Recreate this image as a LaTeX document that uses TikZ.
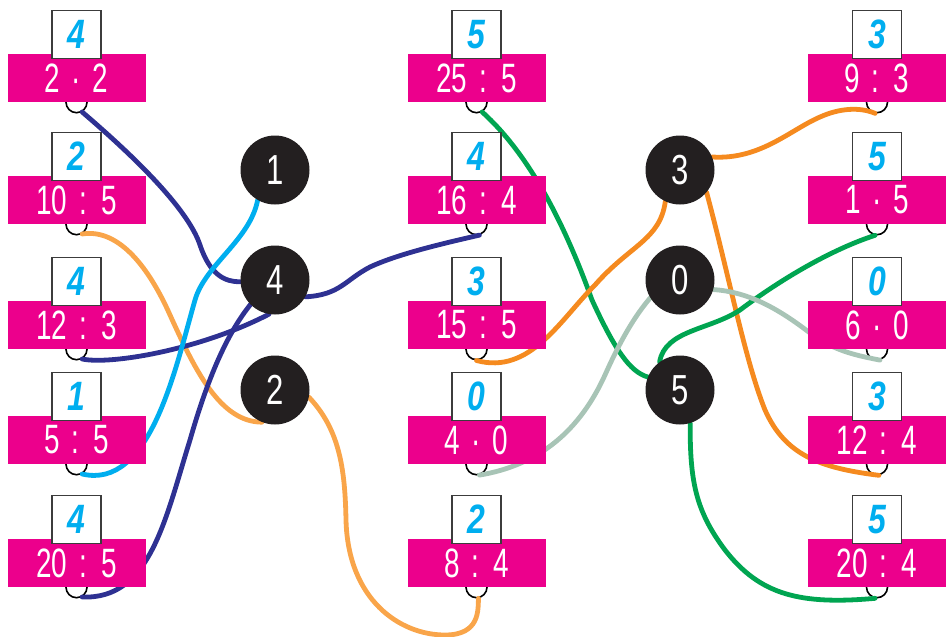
\documentclass[tikz,border=0pt]{standalone}
\usepackage{fontspec}
\newfontfamily\quotfont{Liberation Sans}[FakeStretch=0.68,WordSpace=1.5]
\newfontfamily\resfont{Liberation Sans}[FakeStretch=0.78]
\newfontfamily\ballfont{Liberation Sans}[FakeStretch=0.74]
\usetikzlibrary{positioning}

\definecolor{quotpink}{HTML}{EC008C}
\definecolor{rescyan}{HTML}{00AEEF}
\definecolor{ballblack}{HTML}{231F20}
\definecolor{framegray}{HTML}{3C3C3C}
\definecolor{navy}{HTML}{2E3192}
\definecolor{peach}{HTML}{F9A54A}
\definecolor{tangerine}{HTML}{F58A1F}
\definecolor{skyline}{HTML}{00AEEF}
\definecolor{leaf}{HTML}{00A551}
\definecolor{sage}{HTML}{A8C4B6}

\pgfdeclarelayer{bg}
\pgfsetlayers{bg,main}

\tikzset{
  quot/.style={fill=quotpink, text=white, minimum width=138pt, minimum height=48pt,
    inner sep=0pt, font=\quotfont\fontsize{41}{44}\selectfont},
  res/.style={draw=framegray, line width=1.3pt, fill=white, text=rescyan,
    minimum width=49pt, minimum height=48pt, inner sep=0pt,
    font=\resfont\bfseries\itshape\fontsize{41}{44}\selectfont},
  hook/.style={circle, draw=black, line width=1.6pt, minimum size=21pt, inner sep=0pt},
  ball/.style={circle, fill=ballblack, text=white, minimum size=69pt, inner sep=0pt,
    font=\ballfont\fontsize{42}{44}\selectfont},
  wire/.style={line width=4.8pt, line cap=round},
}

\begin{document}
\begin{tikzpicture}[x=1pt,y=-1pt]
  \useasboundingbox (0,0) rectangle (946,637);

  % left column
  \node[quot] (a1) at (76.5,78) {2 · 2};
  \node[quot] (a2) at (76.5,200) {10 : 5};
  \node[quot] (a3) at (76.5,325) {12 : 3};
  \node[quot] (a4) at (76.5,440) {5 : 5};
  \node[quot] (a5) at (76.5,563) {20 : 5};
  \node[res, above=-5pt of a1] (ra1) {4};
  \node[res, above=-5pt of a2] (ra2) {2};
  \node[res, above=-5pt of a3] (ra3) {4};
  \node[res, above=-5pt of a4] (ra4) {1};
  \node[res, above=-5pt of a5] (ra5) {4};

  % middle column
  \node[quot] (b1) at (476.5,78) {25 : 5};
  \node[quot] (b2) at (476.5,200) {16 : 4};
  \node[quot] (b3) at (476.5,325) {15 : 5};
  \node[quot] (b4) at (476.5,440) {4 · 0};
  \node[quot] (b5) at (476.5,563) {8 : 4};
  \node[res, above=-5pt of b1] (rb1) {5};
  \node[res, above=-5pt of b2] (rb2) {4};
  \node[res, above=-5pt of b3] (rb3) {3};
  \node[res, above=-5pt of b4] (rb4) {0};
  \node[res, above=-5pt of b5] (rb5) {2};

  % right column
  \node[quot] (c1) at (877,78) {9 : 3};
  \node[quot] (c2) at (877,200) {1 · 5};
  \node[quot] (c3) at (877,325) {6 · 0};
  \node[quot] (c4) at (877,440) {12 : 4};
  \node[quot] (c5) at (877,563) {20 : 4};
  \node[res, above=-5pt of c1] (rc1) {3};
  \node[res, above=-5pt of c2] (rc2) {5};
  \node[res, above=-5pt of c3] (rc3) {0};
  \node[res, above=-5pt of c4] (rc4) {3};
  \node[res, above=-5pt of c5] (rc5) {5};

  % results
  \node[ball] (k1) at (275,170) {1};
  \node[ball] (k4) at (275,280) {4};
  \node[ball] (k2) at (275,390) {2};
  \node[ball] (k3) at (680,170) {3};
  \node[ball] (k0) at (680,280) {0};
  \node[ball] (k5) at (680,390) {5};

  \begin{pgfonlayer}{bg}
    \node[hook] (ha1) at (a1.south) {};
    \node[hook] (ha2) at (a2.south) {};
    \node[hook] (ha3) at (a3.south) {};
    \node[hook] (ha4) at (a4.south) {};
    \node[hook] (ha5) at (a5.south) {};
    \node[hook] (hb1) at (b1.south) {};
    \node[hook] (hb2) at (b2.south) {};
    \node[hook] (hb3) at (b3.south) {};
    \node[hook] (hb4) at (b4.south) {};
    \node[hook] (hb5) at (b5.south) {};
    \node[hook] (hc1) at (c1.south) {};
    \node[hook] (hc2) at (c2.south) {};
    \node[hook] (hc3) at (c3.south) {};
    \node[hook] (hc4) at (c4.south) {};
    \node[hook] (hc5) at (c5.south) {};

    % left side
    \draw[wire, navy] (ha1.-60) .. controls (150,170) and (190,215) .. (200,245)
      .. controls (210,275) and (225,282) .. (k4.183);
    \draw[wire, peach] (ha2.-60) .. controls (120,228) and (150,270) .. (170,315)
      .. controls (195,370) and (220,422) .. (k2.248);
    \draw[wire, navy] (ha3.-60) .. controls (110,365) and (200,350) .. (k4.260);
    \draw[wire, skyline] (ha4.-60) .. controls (150,490) and (175,370) .. (195,300)
      .. controls (205,265) and (250,240) .. (k1.240);
    \draw[wire, navy] (ha5.-60) .. controls (150,600) and (165,520) .. (190,440)
      .. controls (210,370) and (230,330) .. (k4.225);
    \draw[wire, navy] (k4.-29) .. controls (340,295) and (345,280) .. (370,267)
      .. controls (400,253) and (450,242) .. (hb2.-75);
    \draw[wire, peach] (k2.-12) .. controls (340,430) and (345,470) .. (346,520)
      .. controls (348,600) and (400,635) .. (445,635)
      .. controls (480,635) and (478,610) .. (hb5.-80);

    % right side
    \draw[wire, leaf] (hb1.-60) .. controls (530,155) and (565,225) .. (592,300)
      .. controls (615,350) and (630,372) .. (k5.158);
    \draw[wire, tangerine] (hb3.-90) .. controls (530,375) and (560,320) .. (595,285)
      .. controls (630,245) and (660,240) .. (k3.245);
    \draw[wire, sage] (hb4.-75) .. controls (540,465) and (580,430) .. (605,375)
      .. controls (625,330) and (640,310) .. (k0.211);
    \draw[wire, tangerine] (k3.22) .. controls (760,160) and (790,130) .. (820,117)
      .. controls (840,108) and (860,107) .. (hc1.-100);
    \draw[wire, tangerine] (k3.-40) .. controls (730,280) and (745,360) .. (765,410)
      .. controls (785,455) and (820,468) .. (hc4.-80);
    \draw[wire, leaf] (hc2.-100) .. controls (830,250) and (780,280) .. (740,310)
      .. controls (710,330) and (665,330) .. (k5.126);
    \draw[wire, sage] (k0.-16) .. controls (750,292) and (780,310) .. (810,333)
      .. controls (835,352) and (860,356) .. (hc3.-75);
    \draw[wire, leaf] (k5.-73) .. controls (690,480) and (695,510) .. (725,550)
      .. controls (760,595) and (800,605) .. (hc5.-100);
  \end{pgfonlayer}
\end{tikzpicture}
\end{document}
